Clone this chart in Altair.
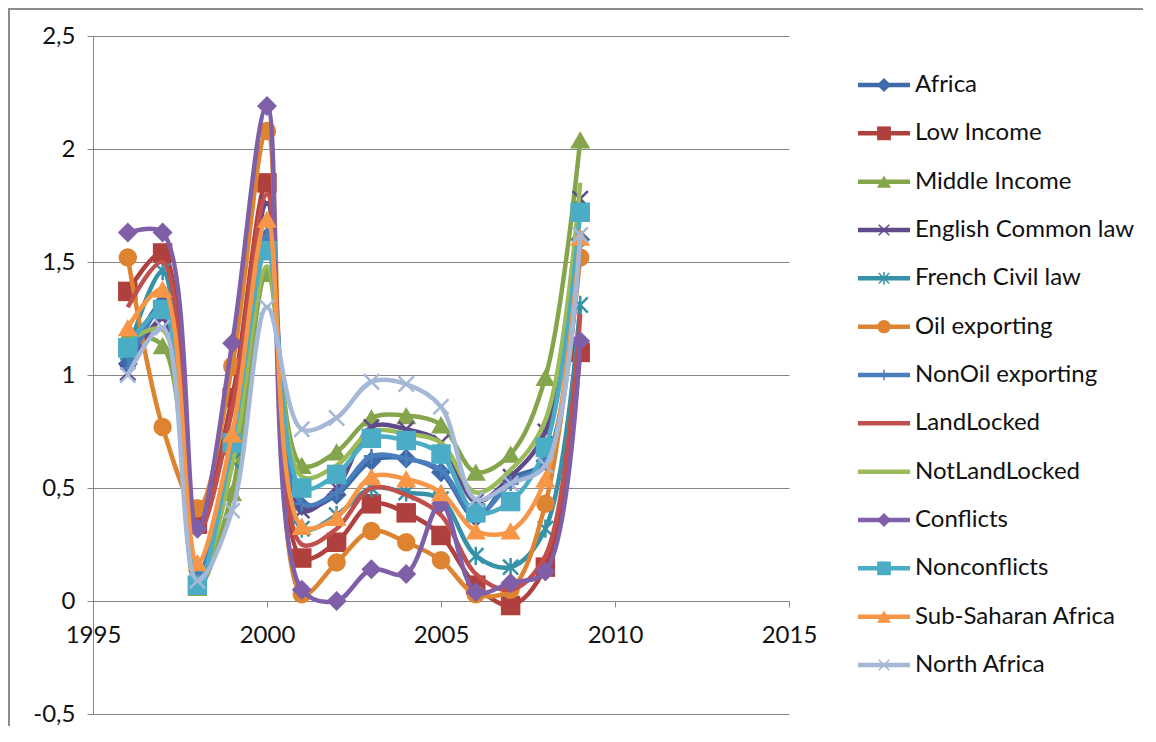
import altair as alt
import pandas as pd

years = list(range(1996, 2010))

names = ["Africa", "Low Income", "Middle Income", "English Common law",
         "French Civil law", "Oil exporting", "NonOil exporting", "LandLocked",
         "NotLandLocked", "Conflicts", "Nonconflicts", "Sub-Saharan Africa",
         "North Africa"]

africa = [1.05, 1.32, 0.10, 0.70, 1.61, 0.42, 0.47, 0.62, 0.63, 0.57, 0.37, 0.54, 0.62, 1.60]
low_income = [1.37, 1.54, 0.34, 0.90, 1.85, 0.19, 0.26, 0.43, 0.39, 0.29, 0.07, -0.02, 0.15, 1.10]
middle_income = [1.18, 1.13, 0.06, 0.48, 1.45, 0.60, 0.66, 0.81, 0.82, 0.78, 0.57, 0.65, 0.99, 2.04]
english_law = [1.01, 1.25, 0.10, 0.62, 1.76, 0.40, 0.50, 0.77, 0.76, 0.70, 0.44, 0.55, 0.75, 1.78]
french_law = [1.10, 1.46, 0.11, 0.62, 1.60, 0.32, 0.38, 0.50, 0.48, 0.45, 0.20, 0.15, 0.32, 1.31]
oil = [1.52, 0.77, 0.41, 1.04, 2.08, 0.03, 0.17, 0.31, 0.26, 0.18, 0.03, 0.05, 0.43, 1.52]
nonoil = [1.03, 1.30, 0.12, 0.68, 1.62, 0.43, 0.48, 0.64, 0.63, 0.58, 0.38, 0.52, 0.62, 1.60]
landlocked = [1.30, 1.50, 0.30, 0.85, 1.80, 0.25, 0.32, 0.50, 0.47, 0.38, 0.12, 0.05, 0.20, 1.27]
notlandlocked = [1.15, 1.20, 0.08, 0.60, 1.48, 0.55, 0.60, 0.75, 0.74, 0.70, 0.48, 0.58, 0.80, 1.85]
conflicts = [1.63, 1.63, 0.32, 1.14, 2.19, 0.05, 0.00, 0.14, 0.12, 0.43, 0.04, 0.08, 0.13, 1.15]
nonconflicts = [1.12, 1.29, 0.07, 0.70, 1.55, 0.50, 0.56, 0.72, 0.71, 0.65, 0.39, 0.44, 0.68, 1.72]
ssa = [1.21, 1.38, 0.17, 0.74, 1.69, 0.33, 0.37, 0.55, 0.54, 0.48, 0.31, 0.31, 0.54, 1.61]
north_africa = [1.00, 1.21, 0.09, 0.40, 1.30, 0.76, 0.81, 0.97, 0.96, 0.86, 0.45, 0.52, 0.60, 1.62]

series_values = [africa, low_income, middle_income, english_law, french_law, oil,
                 nonoil, landlocked, notlandlocked, conflicts, nonconflicts, ssa,
                 north_africa]

colors = ["#3D6AA8", "#B0403D", "#84A54B", "#5F4A8B", "#3592A8", "#DE8431",
          "#4A7EBD", "#C0504D", "#9BBB59", "#7E5FA8", "#4BACC6", "#F79646",
          "#A5B8D8"]

markers = ["diamond", "square", "triangle", "x", "asterisk", "circle", "plus",
           "none", "none", "diamond", "square", "triangle", "x"]

y_ticks = [-0.5, 0, 0.5, 1, 1.5, 2, 2.5]
x_ticks = [1995, 2000, 2005, 2010, 2015]

rows = []
for name, vals in zip(names, series_values):
    for yr, v in zip(years, vals):
        rows.append({"series": name, "year": yr, "value": v})
df = pd.DataFrame(rows)
leg_df = pd.DataFrame({"series": names, "marker": markers})

FONT = "Lato"
GRAY = "#868686"
TEXT = "#111111"

X_PATH = "M-1,-1L1,1M-1,1L1,-1"
AST_PATH = "M-1,-1L1,1M-1,1L1,-1M0,-1.2L0,1.2"
PLUS_PATH = "M0,-1L0,1M-1,0L1,0"

# marker -> (shape, filled, size in plot, size in legend)
shape_spec = {
    "diamond": ("diamond", True, 400, 200),
    "square": ("square", True, 380, 190),
    "triangle": ("triangle-up", True, 400, 200),
    "circle": ("circle", True, 340, 180),
    "x": (X_PATH, False, 230, 110),
    "asterisk": (AST_PATH, False, 230, 110),
    "plus": (PLUS_PATH, False, 230, 110),
}

x_enc = alt.X(
    "year:Q",
    scale=alt.Scale(domain=[1995, 2015], nice=False, zero=False),
    axis=alt.Axis(values=x_ticks, format="d", title=None, grid=False,
                  offset=-113, domainColor=GRAY, tickColor=GRAY, tickSize=6,
                  labelFont=FONT, labelFontSize=24, labelColor=TEXT,
                  labelPadding=16, labelFlush=False),
)
y_enc = alt.Y(
    "value:Q",
    scale=alt.Scale(domain=[-0.5, 2.5], nice=False, zero=False),
    axis=alt.Axis(values=y_ticks, title=None, grid=True, gridColor=GRAY,
                  domainColor=GRAY, tickColor=GRAY, tickSize=6,
                  labelExpr="replace(toString(datum.value), '.', ',')",
                  labelFont=FONT, labelFontSize=24, labelColor=TEXT,
                  labelPadding=12),
)
color_enc = alt.Color("series:N", scale=alt.Scale(domain=names, range=colors),
                      legend=None)

base = alt.Chart(df)
series_layers = []
for name, marker in zip(names, markers):
    sub = base.transform_filter(alt.datum.series == name)
    series_layers.append(
        sub.mark_line(interpolate="catmull-rom", strokeWidth=4.5).encode(
            x=x_enc, y=y_enc, color=color_enc)
    )
    if marker != "none":
        shape, filled, size, _ = shape_spec[marker]
        if filled:
            pt = sub.mark_point(shape=shape, filled=True, size=size, opacity=1)
        else:
            pt = sub.mark_point(shape=shape, filled=False, size=size,
                                strokeWidth=2.5, opacity=1)
        series_layers.append(pt.encode(x=x_enc, y=y_enc, color=color_enc))

main = alt.layer(*series_layers)

# legend (drawn as marks: line stub, marker, label per series)
y_leg = alt.Y("series:N", scale=alt.Scale(type="point", domain=names,
                                          range=[49, 629], padding=0),
              axis=None)
leg_base = alt.Chart(leg_df)
leg_layers = [
    leg_base.mark_rule(strokeWidth=4.5).encode(
        x=alt.value(765), x2=alt.value(817), y=y_leg, color=color_enc),
]
for marker, (shape, filled, _, lsize) in shape_spec.items():
    sub = leg_base.transform_filter(alt.datum.marker == marker)
    if filled:
        pt = sub.mark_point(shape=shape, filled=True, size=lsize, opacity=1)
    else:
        pt = sub.mark_point(shape=shape, filled=False, size=lsize,
                            strokeWidth=1.5, opacity=1)
    leg_layers.append(pt.encode(x=alt.value(791), y=y_leg, color=color_enc))
leg_layers.append(
    leg_base.mark_text(align="left", baseline="middle", font=FONT,
                       fontSize=24, color=TEXT).encode(
        x=alt.value(822), y=y_leg, text="series:N")
)
legend = alt.layer(*leg_layers)

frame = alt.Chart(pd.DataFrame({"a": [0]})).mark_rect(
    fill="transparent", stroke="#8C8C8C", strokeWidth=2
).encode(x=alt.value(-84), x2=alt.value(1052), y=alt.value(-27), y2=alt.value(720))

chart = alt.layer(frame, main, legend).resolve_scale(y="independent").properties(
    width=696, height=678,
    autosize=alt.AutoSizeParams(type="none"),
    padding={"left": 85, "top": 28, "right": 354, "bottom": 12},
    background="white",
).configure_view(stroke=None)

chart.save("out.html", embed_options={"renderer": "svg", "actions": False})
